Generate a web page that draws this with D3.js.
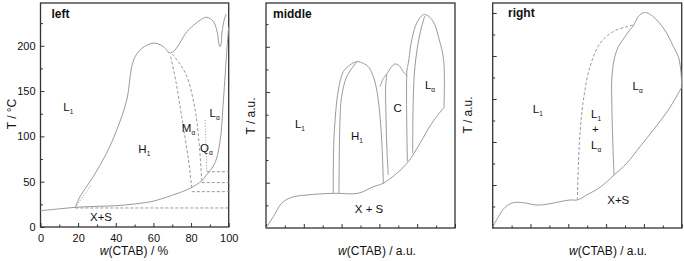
<!DOCTYPE html>
<html><head><meta charset="utf-8">
<script src="https://cdn.jsdelivr.net/npm/d3@7"></script>
<style>
body{margin:0;background:#fff;}
svg{display:block;font-family:"Liberation Sans",Arial,sans-serif;}
</style></head>
<body><svg id="c" width="684" height="261"></svg>
<script>
// ---------- data (w in %, T in panel units) ----------
const xTicksMajor = [0,20,40,60,80,100];
const xTicksMinor = [10,30,50,70,90];
const leftYTicks = [0,50,100,150,200];
const leftYMinor = [25,75,125,175,225];

// left panel
const leftSolidus = [[0,18],[10,20],[18.5,21.7],[30,22.8],[40,23.5],[50,25.4],[60,28.5],[67,33],[72,36.5],[76,39.5],[79.5,42.7],[83,47],[85.7,51],[88.4,58],[90.8,64],[93.3,74],[95.5,96],[97.2,140],[99,195],[100,221]];
const leftH1Dome = [[18.5,21.7],[21,33.5],[28,55.5],[35,81],[40.5,107],[45.8,140],[48.5,177],[50.3,188],[53.8,197],[60,203],[65.3,199],[68.2,192]];
const leftUpper = [[68.2,192],[70.6,193.5],[74,203],[77.8,215.5],[85,228.5],[88.4,231.5],[91.9,226.6],[94,214],[94.8,202],[95.4,199],[95.9,201],[96.4,214],[97.6,228.5],[98.7,235]];
const leftDash1 = [[69.2,188],[72,160],[75,122],[78.6,74],[80.4,42.7]];
const leftDash2 = [[70,191],[74,180],[77.8,166],[82.2,129],[84.3,92],[85.7,51]];
const leftDot1 = [[18.5,21.7],[27.2,47]];
const leftDot2 = [[87.5,118],[88.4,60]];
const leftHorizT = [21,39,49,61];
const leftHorizW0 = [18.5,80.4,85.7,88.4];

// middle panel
const midSolidus = [[0,0],[3.9,12.5],[8.3,27.3],[13.6,33.9],[21.5,36.4],[35.6,38.3],[48.8,38.3],[56.8,45.6],[62,49.3],[69.2,60.4],[75.3,73.2],[81.5,93.5],[87.7,115.6],[94.2,133.2]];
const midH1Outer = [[35.6,38.3],[36,100.8],[38.3,152.3],[40.9,172.5],[44.4,179.9],[48,183.6],[50.6,182.5],[54.1,178],[56.8,167],[58.6,152.3],[60,130.2],[61.3,93.5],[62.1,49.3]];
const midH1Inner = [[48,183.4],[42.7,167],[40,145],[39.2,122.8],[38.6,38.3]];
const midCOuter = [[60.3,156],[62.1,165],[63.9,170],[66.5,178],[68.3,181],[70.5,179],[72.6,172.5],[74.8,167.8]];
const midCInner = [[63.9,169],[63.3,156],[63.5,123],[64,86],[64.7,58.5]];
const midLaOuter = [[74.8,73.5],[74.6,174.4],[75.3,181.8],[77.1,207.5],[79.7,226],[82.9,235],[85,235],[88.5,227.7],[91.7,207.5],[94,185],[94.2,133.2]];
const midLaInner = [[84,234],[81.5,215],[78.8,178],[77.9,141],[77.6,82.5]];

// right panel
const rightYMajor = [50,100,150,200,250];
const rightYMinor = [25,75,125,175,225];
const rightSolidus = [[0,1],[3,13],[6.5,24],[10.9,29.4],[16.2,29.4],[23.3,26.7],[29.4,27.9],[35.6,30.6],[40.9,32.6],[44.8,32.6],[49.7,38.4],[56.8,47.3],[64.2,61.6],[70.9,75.2],[77.9,94.5],[85,114],[92.9,137.2],[100,163.6]];
const rightDashed = [[44.8,32.6],[45.3,71.3],[46.2,110.1],[48,148.8],[51.5,187.6],[56.8,214.8],[63.8,228.3],[70.9,234.1],[74.4,236]];
const rightLa = [[64.2,61.6],[63.5,102.3],[63,148.8],[63,172],[64.2,195.3],[66.5,210.8],[70,222.4],[72.6,230.5],[74.4,235],[77,245.7],[79.7,250.3],[82.3,249.6],[86.8,241.9],[92.1,226.4],[95.6,210.8],[98.2,199.2],[99.5,183.7],[100,163.6]];

// labels: [base, subscript, w, T]
const leftLabels = [["L","1",12.1,128],["H","1",52,81.4],["M","α",75.1,105],["Q","α",84.8,83],["L","α",89.8,121.7],["X+S","",26.3,7]];
const midLabels = [["L","1",15.3,110],["H","1",45,97],["C","",67.4,128.4],["L","α",84.1,153],["X + S","",47,16.2]];
const rightLabels = [["L","1",21.2,134],["L","1",52,127.6],["+","",52.6,110.8],["L","α",52,91.9],["L","α",74,160.5],["X+S","",60.6,27.9]];

// ---------- drawing ----------
const svg = d3.select("#c");
const CURVE = "#9a9a9a";
const FRAME = "#333";

function panel(o){
  const g = svg.append("g");
  const x = d3.scaleLinear().domain([0,100]).range([o.x0,o.x1]);
  const y = d3.scaleLinear().domain([0,o.yMax]).range([o.y1,o.y0]);
  g.append("g").attr("transform",`translate(0,${o.y1})`)
    .call(d3.axisBottom(x).tickValues(xTicksMajor).tickSizeInner(-4).tickSizeOuter(0).tickPadding(7)
      .tickFormat(o.xLabels ? d3.format("d") : ""));
  g.append("g").attr("transform",`translate(0,${o.y1})`)
    .call(d3.axisBottom(x).tickValues(xTicksMinor).tickSizeInner(-2.5).tickSizeOuter(0).tickFormat(""));
  g.append("g").attr("transform",`translate(${o.x0},0)`)
    .call(d3.axisLeft(y).tickValues(o.yMajor).tickSizeInner(-4).tickSizeOuter(0).tickPadding(5)
      .tickFormat(o.yLabels ? d3.format("d") : ""));
  g.append("g").attr("transform",`translate(${o.x0},0)`)
    .call(d3.axisLeft(y).tickValues(o.yMinor).tickSizeInner(-2.5).tickSizeOuter(0).tickFormat(""));
  g.selectAll(".domain").remove();
  g.selectAll(".tick line").attr("stroke",FRAME).attr("stroke-width",1);
  g.selectAll(".tick text").attr("fill","#111").style("font-size","11px").style("font-family","'Liberation Sans',Arial,sans-serif");
  g.append("rect").attr("x",o.x0).attr("y",o.y0).attr("width",o.x1-o.x0).attr("height",o.y1-o.y0)
    .attr("fill","none").attr("stroke",FRAME).attr("stroke-width",1.3);
  const line = d3.line().x(d=>x(d[0])).y(d=>y(d[1])).curve(d3.curveCatmullRom.alpha(0.5));
  const lin = d3.line().x(d=>x(d[0])).y(d=>y(d[1]));
  const cg = g.append("g").attr("fill","none").attr("stroke",CURVE).attr("stroke-width",1);
  o.solid.forEach(s=>cg.append("path").attr("d",line(s)));
  (o.dashed||[]).forEach(s=>cg.append("path").attr("d",line(s)).attr("stroke-dasharray","3,2"));
  (o.dotted||[]).forEach(s=>cg.append("path").attr("d",lin(s)).attr("stroke-dasharray","1,1.8"));
  o.labels.forEach(l=>{
    const t = g.append("text").attr("x",x(l[2])).attr("y",y(l[3]))
      .attr("fill","#111").style("font-size","11.5px");
    t.append("tspan").text(l[0]);
    if(l[1]) t.append("tspan").attr("dy",3).style("font-size","6.5px").text(l[1]);
  });
  g.append("text").attr("x",o.titleX).attr("y",o.titleY).attr("font-weight","bold")
    .style("font-size","12px").attr("fill","#111").text(o.title);
  const xt = g.append("text").attr("x",(o.xtX)).attr("y",255).attr("text-anchor","middle")
    .style("font-size","12px").attr("fill","#111");
  xt.append("tspan").attr("font-style","italic").text("w");
  xt.append("tspan").text(o.xTitle);
  g.append("text").attr("transform",`translate(${o.ytX},${o.ytY}) rotate(-90)`).attr("text-anchor","middle")
    .style("font-size","12px").attr("fill","#111").text(o.yTitle);
  return {x,y,g,line};
}

// left
const L = panel({x0:40.5,x1:228.7,y0:3,y1:227,yMax:247.2,yMajor:leftYTicks,yMinor:leftYMinor,
  xLabels:true,yLabels:true,
  solid:[leftSolidus,leftH1Dome,leftUpper],dashed:[leftDash1,leftDash2],dotted:[leftDot1,leftDot2],
  labels:leftLabels,title:"left",titleX:51.5,titleY:18,xTitle:"(CTAB) / %",xtX:134,yTitle:"T / °C",ytX:16,ytY:114});
const hg = L.g.append("g").attr("stroke",CURVE).attr("stroke-width",1).attr("stroke-dasharray","3,2");
leftHorizT.forEach((t,i)=>hg.append("line").attr("x1",L.x(leftHorizW0[i])).attr("x2",L.x(100))
  .attr("y1",L.y(t)).attr("y2",L.y(t)));

// middle
const M = panel({x0:266,x1:455,y0:3,y1:228,yMax:248.3,yMajor:[50,100,150,200],yMinor:[25,75,125,175,225],
  xLabels:false,yLabels:false,
  solid:[midSolidus,midH1Outer,midH1Inner,midCOuter,midCInner,midLaInner,midLaOuter],
  labels:midLabels,title:"middle",titleX:273,titleY:18,xTitle:"(CTAB) / a.u.",xtX:377,yTitle:"T / a.u.",ytX:255,ytY:116});

// right
panel({x0:492.7,x1:681.7,y0:3,y1:228,yMax:261.6,yMajor:rightYMajor,yMinor:rightYMinor,
  xLabels:false,yLabels:false,
  solid:[rightSolidus,rightLa],dashed:[rightDashed],
  labels:rightLabels,title:"right",titleX:508,titleY:17,xTitle:"(CTAB) / a.u.",xtX:608,yTitle:"T / a.u.",ytX:472,ytY:115});
</script></body></html>
